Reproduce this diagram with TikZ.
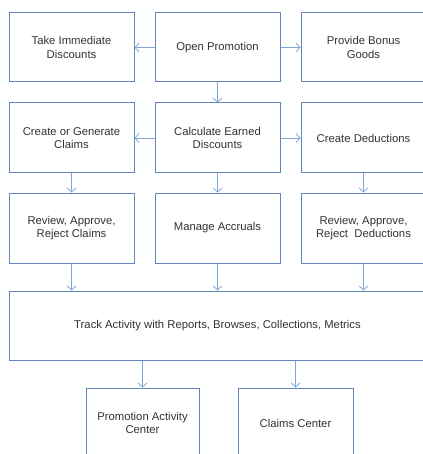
\documentclass[tikz,border=0pt]{standalone}
\usepackage{fontspec}
\setmainfont{Liberation Sans}
\usepackage{xcolor}
\usepackage{tikz}
\usetikzlibrary{arrows.meta, positioning}
\definecolor{boxline}{HTML}{6286BC}
\definecolor{arrowline}{HTML}{80A6D8}
\definecolor{txt}{HTML}{333333}

\begin{document}
\begin{tikzpicture}[x=1pt,y=-1pt,
    stepbox/.style={draw=boxline, line width=1pt, fill=white, text=txt,
        minimum width=125pt, minimum height=69pt, align=center,
        inner sep=2pt, font=\fontsize{11.3}{13.5}\selectfont},
    flow/.style={draw=arrowline, line width=0.8pt,
        -{Straight Barb[length=4pt,width=9pt]}}]
\useasboundingbox (0,0) rectangle (422,454);
% first row
\node[stepbox] (take) at (71.5,47.5) {Take Immediate\\Discounts};
\node[stepbox] (open) at (217.5,47.5) {Open Promotion};
\node[stepbox] (bonus) at (363.5,47.5) {Provide Bonus\\Goods};
% second row
\node[stepbox, minimum height=70pt] (create) at (71.5,138) {Create or Generate\\Claims};
\node[stepbox, minimum height=70pt] (calc) at (217.5,138) {Calculate Earned\\Discounts};
\node[stepbox, minimum height=70pt] (deduct) at (363.5,138) {Create Deductions};
% third row
\node[stepbox, minimum height=70pt] (revclaims) at (71.5,228) {Review, Approve,\\Reject Claims};
\node[stepbox, minimum height=70pt] (accruals) at (217.5,228) {Manage Accruals};
\node[stepbox, minimum height=70pt] (revdeduct) at (363.5,228) {Review, Approve,\\Reject\ \ Deductions};
% tracking
\node[stepbox, minimum width=417pt] (track) at (217.5,325.5) {Track Activity with Reports, Browses, Collections, Metrics};
\node[stepbox, minimum width=113pt, minimum height=70pt] (pac) at (142.5,423) {Promotion Activity\\Center};
\node[stepbox, minimum width=115pt, minimum height=70pt] (cc) at (295.5,423) {Claims Center};

\draw[flow] (open.west) -- (take.east);
\draw[flow] (open.east) -- (bonus.west);
\draw[flow] (open.south) -- (calc.north);
\draw[flow] (calc.west) -- (create.east);
\draw[flow] (calc.east) -- (deduct.west);
\draw[flow] (create.south) -- (revclaims.north);
\draw[flow] (calc.south) -- (accruals.north);
\draw[flow] (deduct.south) -- (revdeduct.north);
\foreach \n in {revclaims,accruals,revdeduct}
    \draw[flow] (\n.south) -- (\n.south |- track.north);
\foreach \n in {pac,cc}
    \draw[flow] (track.south -| \n.north) -- (\n.north);
\end{tikzpicture}
\end{document}
